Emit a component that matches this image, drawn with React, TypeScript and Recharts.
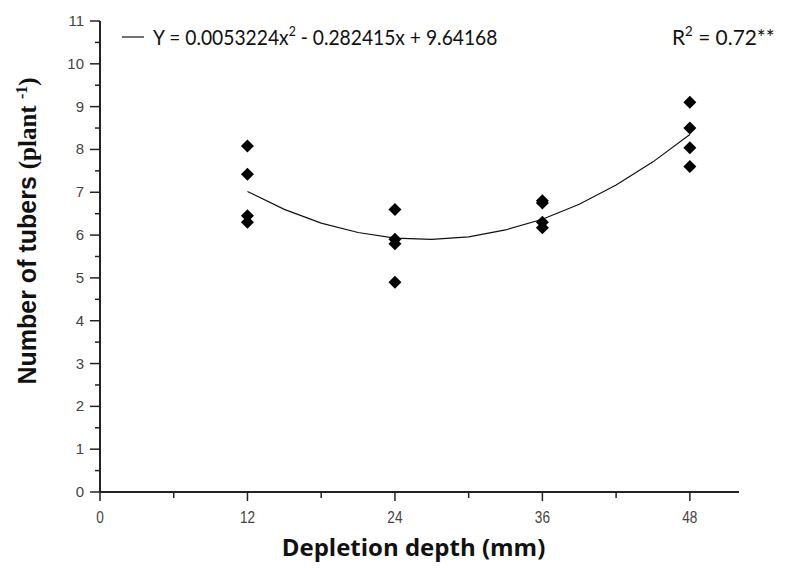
import React from "react";
import { ScatterChart, Scatter, XAxis, YAxis } from "recharts";

const xTicks = [0, 6, 12, 18, 24, 30, 36, 42, 48];
const xLabelTicks = [0, 12, 24, 36, 48];
const yTicks = [0, 0.5, 1, 1.5, 2, 2.5, 3, 3.5, 4, 4.5, 5, 5.5, 6, 6.5, 7, 7.5, 8, 8.5, 9, 9.5, 10, 10.5, 11];

const depth12 = [8.08, 7.42, 6.45, 6.3];
const depth24 = [6.6, 5.9, 5.8, 4.9];
const depth36 = [6.8, 6.75, 6.3, 6.17];
const depth48 = [9.1, 8.5, 8.04, 7.6];

const curveX = [12, 15, 18, 21, 24, 27, 30, 33, 36, 39, 42, 45, 48];
const curveY = [7.02, 6.6, 6.28, 6.06, 5.93, 5.9, 5.96, 6.12, 6.37, 6.72, 7.17, 7.71, 8.35];

const observed = [
  ...depth12.map((y) => ({ x: 12, y })),
  ...depth24.map((y) => ({ x: 24, y })),
  ...depth36.map((y) => ({ x: 36, y })),
  ...depth48.map((y) => ({ x: 48, y })),
];
const curve = curveX.map((x, i) => ({ x, y: curveY[i] }));

const Diamond = (props: any) => {
  const { cx, cy } = props;
  const r = 6.5;
  return (
    <polygon
      points={`${cx},${cy - r} ${cx + r},${cy} ${cx},${cy + r} ${cx - r},${cy}`}
      fill="#000"
    />
  );
};

const XTick = (props: any) => {
  const { x, y, payload } = props;
  const major = xLabelTicks.includes(payload.value);
  return (
    <g>
      <line x1={x} x2={x} y1={y - 8} y2={y - 8 + (major ? 9 : 6)} stroke="#222" strokeWidth={1.5} />
      {major && (
        <text x={0} y={0} transform={`translate(${x}, ${y + 23}) scale(0.85, 1)`} textAnchor="middle"
          fontSize={16} fill="#444" fontFamily="'Liberation Sans', Arial, sans-serif">
          {payload.value}
        </text>
      )}
    </g>
  );
};

const YTick = (props: any) => {
  const { x, y, payload } = props;
  const major = Number.isInteger(payload.value);
  return (
    <g>
      <line x1={x + 8} x2={x + 8 - (major ? 10 : 5)} y1={y} y2={y} stroke="#222" strokeWidth={1.5} />
      {major && (
        <text x={x - 8} y={y + 5} textAnchor="end" fontSize={15} fill="#444"
          fontFamily="'Liberation Sans', Arial, sans-serif">
          {payload.value}
        </text>
      )}
    </g>
  );
};

const NoShape = () => <g />;

const legendFont = "Lato, 'Open Sans', sans-serif";

export default function App() {
  return (
    <div style={{ position: "relative", width: 779, height: 560 }}>
      <ScatterChart width={779} height={560} margin={{ top: 13, right: 48, bottom: 0, left: 0 }}>
        <XAxis
          type="number"
          dataKey="x"
          domain={[0, 52]}
          ticks={xTicks}
          interval={0}
          tick={<XTick />}
          tickLine={false}
          axisLine={{ stroke: "#222", strokeWidth: 2 }}
          height={76}
          label={(p: any) => {
            const vb = p.viewBox;
            return (
              <text x={vb.x + vb.width / 2 - 6} y={vb.y + 64} textAnchor="middle" fontSize={24}
                fontWeight="bold" fill="#111" fontFamily="'Open Sans', sans-serif">
                Depletion depth (mm)
              </text>
            );
          }}
        />
        <YAxis
          type="number"
          dataKey="y"
          domain={[0, 11]}
          ticks={yTicks}
          interval={0}
          tick={<YTick />}
          tickLine={false}
          axisLine={{ stroke: "#222", strokeWidth: 2 }}
          width={92}
          label={() => (
            <text x={0} y={0} transform="translate(28, 223) rotate(-90)" textAnchor="middle"
              fontSize={25} fontWeight="bold" fill="#111">
              <tspan fontFamily="'Liberation Sans', Arial, sans-serif">Number of tubers </tspan>
              <tspan fontFamily="'Liberation Serif', 'DejaVu Serif', serif">(plant </tspan>
              <tspan fontFamily="'Liberation Serif', serif" fontSize={16} dy={-9}>-1</tspan>
              <tspan fontFamily="'Liberation Serif', serif" dy={9}>)</tspan>
            </text>
          )}
        />
        <Scatter
          data={curve}
          line={{ stroke: "#111", strokeWidth: 1.2 }}
          lineType="joint"
          shape={<NoShape />}
          isAnimationActive={false}
        />
        <Scatter data={observed} shape={<Diamond />} isAnimationActive={false} />
      </ScatterChart>
      <svg width={779} height={50} style={{ position: "absolute", left: 0, top: 0, pointerEvents: "none" }}>
        <line x1={114} x2={136} y1={29} y2={29} stroke="#111" strokeWidth={1.2} />
        <text x={0} y={0} transform="translate(145, 37) scale(0.875, 1)" fontSize={22} fill="#111"
          fontFamily={legendFont}>
          Y = 0.0053224x<tspan fontSize={14} dy={-9}>2</tspan>
          <tspan dy={9}> - 0.282415x + 9.64168</tspan>
        </text>
        <text x={0} y={0} transform="translate(664, 37) scale(0.95, 1)" fontSize={22} fill="#111"
          fontFamily={legendFont}>
          R<tspan fontSize={14} dy={-9}>2</tspan>
          <tspan dy={9}> = 0.72**</tspan>
        </text>
      </svg>
    </div>
  );
}
